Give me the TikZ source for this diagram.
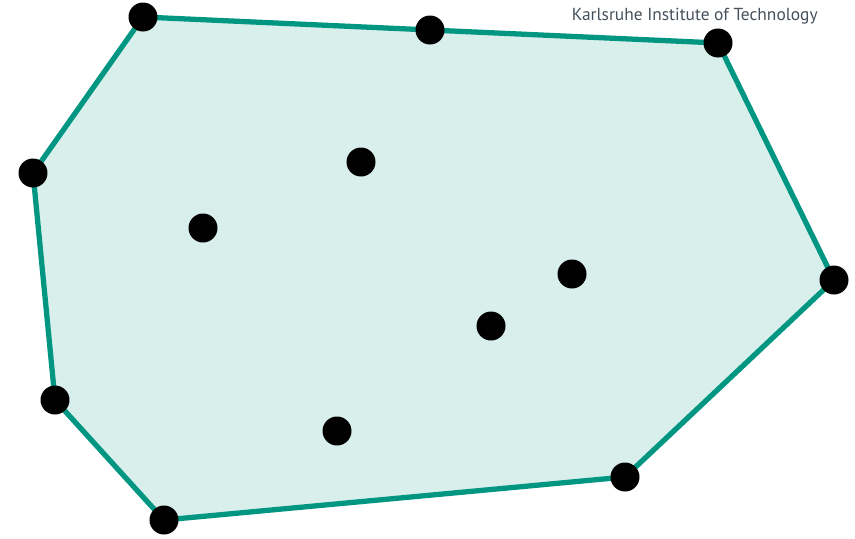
\documentclass[tikz,border=0pt]{standalone}
\usepackage{fontspec}
\setsansfont{PT Sans}
\usepackage{tikz}
\usetikzlibrary{calc}
\definecolor{kitgreen}{RGB}{0, 150, 130}
\definecolor{kitgray}{RGB}{70, 80, 90}

\begin{document}
\begin{tikzpicture}[x=0.02cm, y=-0.02cm,
  hull/.style={draw=kitgreen, fill=kitgreen!15, line width=3pt, line join=round},
  dot/.style={circle, fill=black, inner sep=0pt, minimum size=0.58cm}]
  \useasboundingbox (0,0) rectangle (855,538);

  % punkte der konvexen huelle
  \coordinate (h1) at (143,17);
  \coordinate (h2) at (430,30);
  \coordinate (h3) at (718,43);
  \coordinate (h4) at (834,280);
  \coordinate (h5) at (625,477);
  \coordinate (h6) at (164,520);
  \coordinate (h7) at (55,400);
  \coordinate (h8) at (33,173);

  % huelle
  \draw[hull] (h1) -- (h2) -- (h3) -- (h4) -- (h5) -- (h6) -- (h7) -- (h8) -- cycle;

  % innere punkte
  \coordinate (i1) at (361,162);
  \coordinate (i2) at (203,228);
  \coordinate (i3) at (572,274);
  \coordinate (i4) at (491,326);
  \coordinate (i5) at (337,431);

  \foreach \p in {h1,h2,h3,h4,h5,h6,h7,h8,i1,i2,i3,i4,i5}
    \node[dot] at (\p) {};

  \node[font=\sffamily\fontsize{9.9}{12}\selectfont, kitgray, anchor=east, inner sep=0pt] (kit) at (818,16) {Karlsruhe Institute of Technology};
\end{tikzpicture}
\end{document}
